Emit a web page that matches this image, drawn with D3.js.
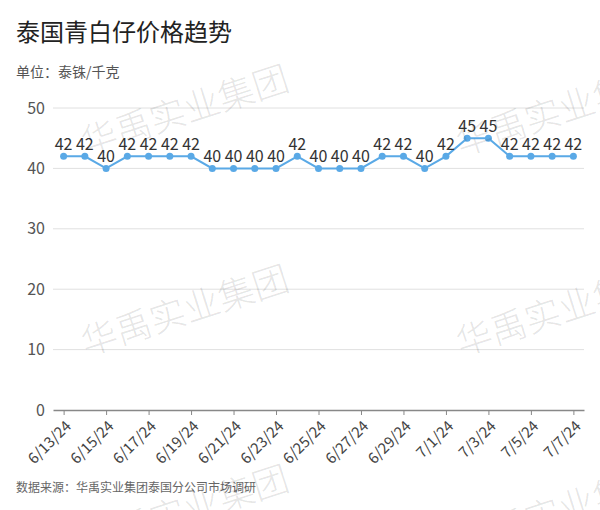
<!DOCTYPE html>
<html><head><meta charset="utf-8">
<script src="https://cdn.jsdelivr.net/npm/d3@7"></script>
<style>body{margin:0;background:#fff;} svg{display:block;}</style>
</head><body>
<svg id="c" width="600" height="510"></svg>
<script>
const dates = ["6/13/24","6/14/24","6/15/24","6/16/24","6/17/24","6/18/24","6/19/24","6/20/24","6/21/24","6/22/24","6/23/24","6/24/24","6/25/24","6/26/24","6/27/24","6/28/24","6/29/24","6/30/24","7/1/24","7/2/24","7/3/24","7/4/24","7/5/24","7/6/24","7/7/24"];
const prices = [42,42,40,42,42,42,42,40,40,40,40,42,40,40,40,42,42,40,42,45,45,42,42,42,42];
const yTicks = [0,10,20,30,40,50];
const title = "泰国青白仔价格趋势";
const unitText = "单位：泰铢/千克";
const sourceText = "数据来源：华禹实业集团泰国分公司市场调研";
const watermark = "华禹实业集团";

const font = "'Noto Sans CJK SC','Noto Sans',sans-serif";
const svg = d3.select("#c");
const x = d3.scalePoint().domain(dates).range([53, 584]).padding(0.5);
const y = d3.scaleLinear().domain([0, 50]).range([410, 108]);

// titles
svg.append("text").attr("x", 16).attr("y", 41).attr("font-family", font)
  .attr("font-size", 24).attr("fill", "#222").text(title);
svg.append("text").attr("x", 16).attr("y", 77).attr("font-family", font)
  .attr("font-size", 14).attr("fill", "#555").text(unitText);
svg.append("text").attr("x", 16).attr("y", 492).attr("font-family", font)
  .attr("font-size", 12).attr("fill", "#666").text(sourceText);

// grid
svg.append("g").selectAll("line").data(yTicks.filter(d => d > 0)).join("line")
  .attr("x1", 53).attr("x2", 584).attr("y1", d => y(d)).attr("y2", d => y(d))
  .attr("stroke", "#e0e0e0").attr("stroke-width", 1);

// y axis
const yAxis = svg.append("g").attr("transform", "translate(53,0)")
  .call(d3.axisLeft(y).tickValues(yTicks).tickSize(0).tickPadding(8));
yAxis.select(".domain").remove();
yAxis.selectAll("text").attr("font-family", font).attr("font-size", 16).attr("fill", "#555");

// x axis
const xAxis = svg.append("g").attr("transform", "translate(0,410)")
  .call(d3.axisBottom(x).tickValues(dates.filter((d, i) => i % 2 === 0)).tickSize(5).tickSizeOuter(0));
xAxis.select(".domain").attr("stroke", "#888").attr("stroke-width", 1.5);
xAxis.selectAll(".tick line").attr("stroke", "#888");
xAxis.selectAll("text").attr("font-family", font).attr("font-size", 15).attr("fill", "#444")
  .attr("text-anchor", "end").attr("dy", null).attr("y", 0)
  .attr("transform", "translate(8,17) rotate(-45)");

// line
const lineColor = "#5aa9e6";
svg.append("path").datum(prices.map((v, i) => [dates[i], v]))
  .attr("fill", "none").attr("stroke", lineColor).attr("stroke-width", 2)
  .attr("d", d3.line().x(d => x(d[0])).y(d => y(d[1])));
svg.append("g").selectAll("circle").data(prices).join("circle")
  .attr("cx", (d, i) => x(dates[i])).attr("cy", d => y(d)).attr("r", 3.5).attr("fill", lineColor);
svg.append("g").selectAll("text").data(prices).join("text")
  .attr("x", (d, i) => x(dates[i])).attr("y", d => y(d) - 6)
  .attr("text-anchor", "middle").attr("font-family", font).attr("font-size", 16).attr("fill", "#333")
  .text(d => d);

// watermarks
const wmPos = [[86,156],[461,156],[86,356],[461,356],[86,556],[461,556]];
svg.append("g").selectAll("text").data(wmPos).join("text")
  .attr("transform", d => `translate(${d[0]},${d[1]}) rotate(-18)`)
  .attr("font-family", font).attr("font-weight", 300).attr("font-size", 36)
  .attr("fill", "#000").attr("fill-opacity", 0.11).text(watermark);
</script>
</body></html>
